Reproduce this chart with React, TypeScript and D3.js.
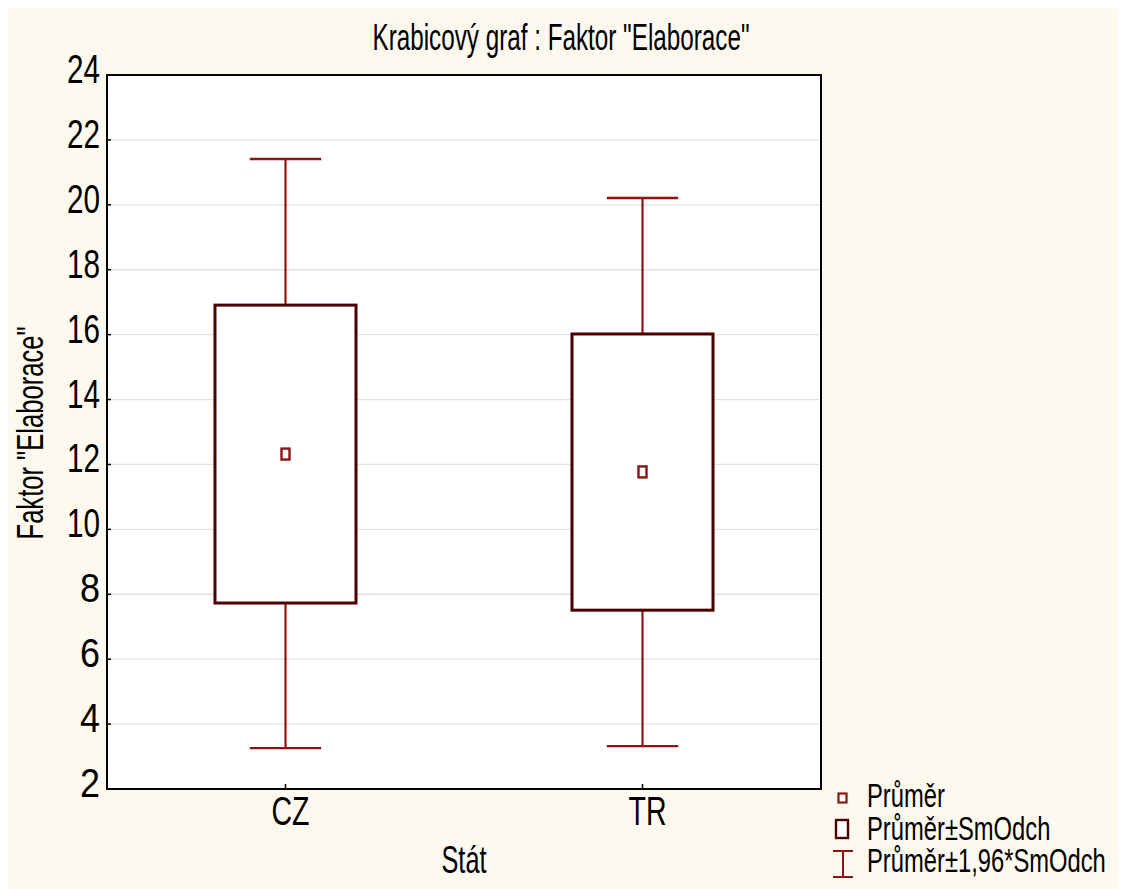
import React from "react";
import * as d3 from "d3";

// Group statistics for the box plot (mean, mean ± SD, mean ± 1.96·SD)
const categories = ["CZ", "TR"];
const means = [12.32, 11.77];
const sdLow = [7.73, 7.51];
const sdHigh = [16.91, 16.02];
const ciLow = [3.26, 3.32];
const ciHigh = [21.41, 20.21];
const yTicks = [2, 4, 6, 8, 10, 12, 14, 16, 18, 20, 22, 24];

const title = "Krabicový graf :  Faktor \"Elaborace\"";
const yLabel = "Faktor \"Elaborace\"";
const xLabel = "Stát";
const legendLabels = ["Průměr", "Průměr±SmOdch", "Průměr±1,96*SmOdch"];

const W = 1118;
const H = 881;
const plot = { left: 99, right: 813, top: 67, bottom: 781 };

const BG = "#fdf9ee";
const BOX = "#4a0000";
const WHISK = "#8c1414";
const FONT = "'Liberation Sans', Arial, sans-serif";

export default function App() {
  const x = d3
    .scaleBand<string>()
    .domain(categories)
    .range([plot.left, plot.right])
    .paddingInner(0)
    .paddingOuter(0);
  const y = d3.scaleLinear().domain([2, 24]).range([plot.bottom, plot.top]);

  const bw = x.bandwidth();
  const boxW = bw * 0.395;
  const capW = bw * 0.2;

  const tickLen = (s: string) => (s.length === 1 ? 20 : 33);

  return (
    <svg width={W} height={H} style={{ display: "block" }} fontFamily={FONT}>
      <rect x={0} y={0} width={W} height={H} fill={BG} />
      <rect
        x={plot.left}
        y={plot.top}
        width={plot.right - plot.left}
        height={plot.bottom - plot.top}
        fill="#ffffff"
      />

      {/* horizontal gridlines */}
      {yTicks
        .filter((t) => t !== 2 && t !== 24)
        .map((t) => (
          <line
            key={"g" + t}
            x1={plot.left}
            x2={plot.right}
            y1={y(t)}
            y2={y(t)}
            stroke="#e2e2e2"
            strokeWidth={1.3}
          />
        ))}

      {/* boxes and whiskers */}
      {categories.map((c, i) => {
        const cx = (x(c) as number) + bw / 2;
        return (
          <g key={c}>
            <line x1={cx} x2={cx} y1={y(ciHigh[i])} y2={y(sdHigh[i])} stroke={WHISK} strokeWidth={2.2} />
            <line x1={cx} x2={cx} y1={y(sdLow[i])} y2={y(ciLow[i])} stroke={WHISK} strokeWidth={2.2} />
            <line x1={cx - capW / 2} x2={cx + capW / 2} y1={y(ciHigh[i])} y2={y(ciHigh[i])} stroke={WHISK} strokeWidth={2.4} />
            <line x1={cx - capW / 2} x2={cx + capW / 2} y1={y(ciLow[i])} y2={y(ciLow[i])} stroke={WHISK} strokeWidth={2.4} />
            <rect
              x={cx - boxW / 2}
              y={y(sdHigh[i])}
              width={boxW}
              height={y(sdLow[i]) - y(sdHigh[i])}
              fill="#ffffff"
              stroke={BOX}
              strokeWidth={3}
            />
            <rect x={cx - 4} y={y(means[i]) - 5.5} width={8} height={11} fill="#ffffff" stroke={WHISK} strokeWidth={2.4} />
          </g>
        );
      })}

      {/* frame */}
      <rect
        x={plot.left}
        y={plot.top}
        width={plot.right - plot.left}
        height={plot.bottom - plot.top}
        fill="none"
        stroke="#000"
        strokeWidth={2}
      />

      {/* y ticks and labels */}
      {yTicks.map((t) => (
        <g key={"t" + t}>
          <line x1={plot.left} x2={plot.left + 4} y1={y(t)} y2={y(t)} stroke="#000" strokeWidth={1.5} />
          <text
            x={92}
            y={y(t) + 8}
            fontSize={41}
            textAnchor="end"
            textLength={tickLen(String(t))}
            lengthAdjust="spacingAndGlyphs"
            fill="#000"
          >
            {t}
          </text>
        </g>
      ))}

      {/* x ticks and labels */}
      {categories.map((c) => {
        const cx = (x(c) as number) + bw / 2;
        return (
          <g key={"x" + c}>
            <line x1={cx} x2={cx} y1={plot.bottom} y2={plot.bottom - 5} stroke="#000" strokeWidth={1.5} />
            <text
              x={cx + 5}
              y={817}
              fontSize={41}
              textAnchor="middle"
              textLength={38}
              lengthAdjust="spacingAndGlyphs"
              fill="#000"
            >
              {c}
            </text>
          </g>
        );
      })}

      {/* axis titles */}
      <text
        x={(plot.left + plot.right) / 2}
        y={865}
        fontSize={39}
        textAnchor="middle"
        textLength={45}
        lengthAdjust="spacingAndGlyphs"
      >
        {xLabel}
      </text>
      <text
        transform={`translate(35, 425) rotate(-90)`}
        fontSize={36}
        textAnchor="middle"
        textLength={213}
        lengthAdjust="spacingAndGlyphs"
      >
        {yLabel}
      </text>
      <text
        x={553}
        y={42}
        fontSize={37}
        textAnchor="middle"
        textLength={377}
        lengthAdjust="spacingAndGlyphs"
      >
        {title}
      </text>

      {/* legend */}
      <g>
        <rect x={830.5} y={785.5} width={8} height={9} fill="#ffffff" stroke={WHISK} strokeWidth={2.2} />
        <rect x={828} y={812} width={12} height={18} fill="#ffffff" stroke={BOX} strokeWidth={2.4} />
        <line x1={825} x2={845} y1={843} y2={843} stroke={WHISK} strokeWidth={2} />
        <line x1={825} x2={845} y1={869} y2={869} stroke={WHISK} strokeWidth={2} />
        <line x1={835} x2={835} y1={843} y2={869} stroke={WHISK} strokeWidth={2} />
        {legendLabels.map((l, i) => (
          <text
            key={l}
            transform={`translate(859, ${799 + i * 32.5}) scale(0.72, 1)`}
            fontSize={33}
          >
            {l}
          </text>
        ))}
      </g>
    </svg>
  );
}
